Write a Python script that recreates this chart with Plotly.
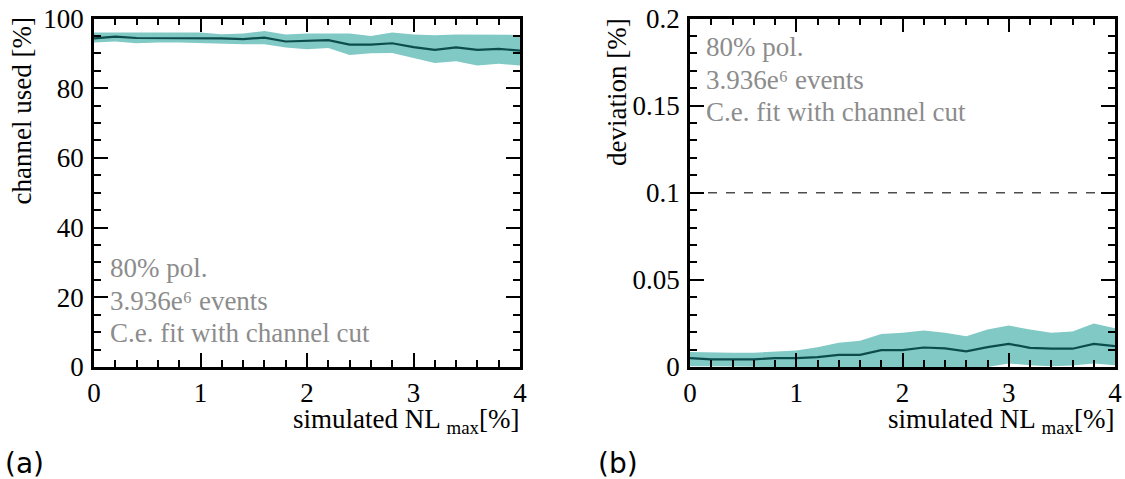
import plotly.graph_objects as go

# x values: simulated NL_max [%]
nl_max = [0.0, 0.2, 0.4, 0.6, 0.8, 1.0, 1.2, 1.4, 1.6, 1.8, 2.0,
          2.2, 2.4, 2.6, 2.8, 3.0, 3.2, 3.4, 3.6, 3.8, 4.0]

# (a) channel used [%]
chan_mean = [94.3, 94.8, 94.4, 94.4, 94.4, 94.4, 94.3, 94.1, 94.5, 93.4, 93.5,
             93.8, 92.5, 92.5, 92.9, 91.8, 91.0, 91.7, 91.0, 91.3, 90.8]
chan_upper = [96.0, 96.0, 96.0, 96.0, 96.0, 96.0, 95.5, 95.7, 96.4, 95.4, 95.7,
              95.7, 95.7, 95.0, 96.0, 95.4, 95.2, 95.4, 95.4, 95.4, 95.3]
chan_lower = [93.1, 93.4, 92.9, 93.1, 93.1, 92.9, 92.8, 92.6, 92.6, 91.7, 91.2,
              91.5, 89.5, 90.0, 90.1, 88.6, 87.2, 87.7, 86.5, 87.0, 86.5]

# (b) deviation [%]
dev_mean = [0.0051, 0.0044, 0.0044, 0.0044, 0.0051, 0.0051, 0.0057, 0.0070, 0.0070, 0.0097, 0.0097,
            0.0112, 0.0107, 0.0090, 0.0114, 0.0133, 0.0110, 0.0105, 0.0105, 0.0133, 0.0120]
dev_upper = [0.0086, 0.0082, 0.0082, 0.0082, 0.0090, 0.0095, 0.0114, 0.0139, 0.0150, 0.0190, 0.0196,
             0.0210, 0.0196, 0.0177, 0.0215, 0.0238, 0.0215, 0.0196, 0.0204, 0.0250, 0.0223]
dev_lower = [0.0005, 0.0003, 0.0003, 0.0002, 0.0000, -0.0005, -0.0010, -0.0020, -0.0020, -0.0010, -0.0010,
             0.0000, -0.0010, -0.0020, 0.0000, 0.0020, 0.0010, 0.0005, 0.0008, 0.0020, 0.0010]

dev_threshold = 0.1

info_lines = ["80% pol.", "3.936e\u2076 events", "C.e. fit with channel cut"]

BAND = "#80c9c5"
LINE = "#0d4c4c"
GRAY = "#8c8c8c"
FONT = "Liberation Serif"
FS = 27

fig = go.Figure()

def add_panel(xa, ya, mean, upper, lower):
    fig.add_trace(go.Scatter(x=nl_max + nl_max[::-1], y=upper + lower[::-1],
                             fill="toself", fillcolor=BAND, line=dict(width=0),
                             mode="lines", hoverinfo="skip", showlegend=False,
                             xaxis=xa, yaxis=ya))
    fig.add_trace(go.Scatter(x=nl_max, y=mean, mode="lines",
                             line=dict(color=LINE, width=2.2), showlegend=False,
                             xaxis=xa, yaxis=ya))

add_panel("x", "y", chan_mean, chan_upper, chan_lower)
add_panel("x2", "y2", dev_mean, dev_upper, dev_lower)

# dashed threshold line
fig.add_trace(go.Scatter(x=[nl_max[0], nl_max[-1]], y=[dev_threshold, dev_threshold],
                         mode="lines", line=dict(color="#4d4d4d", width=1.6, dash="dash"),
                         showlegend=False, xaxis="x2", yaxis="y2"))

ydom = [(479 - 367) / 479, (479 - 18.5) / 479]

def axis(dtick_minor, **kw):
    d = dict(showline=True, linewidth=2.5, linecolor="black", mirror="allticks",
             ticks="inside", ticklen=14, tickwidth=2, tickcolor="black",
             showgrid=False, zeroline=False, automargin=False,
             tickfont=dict(family=FONT, size=FS, color="black"),
             minor=dict(ticks="inside", ticklen=7, tickwidth=1.8, tickcolor="black",
                        dtick=dtick_minor))
    d.update(kw)
    return d

fig.update_layout(
    width=1125, height=479, autosize=False,
    margin=dict(l=0, r=0, t=0, b=0, pad=0, autoexpand=False),
    paper_bgcolor="white", plot_bgcolor="white",
    xaxis=axis(0.2, domain=[94 / 1125, 520 / 1125], range=[0, 4], tickvals=[0, 1, 2, 3, 4],
               anchor="y"),
    yaxis=axis(5, domain=ydom, range=[0, 100], tickvals=[0, 20, 40, 60, 80, 100], anchor="x",
               ticklabelstandoff=2),
    xaxis2=axis(0.2, domain=[690 / 1125, 1115 / 1125], range=[0, 4], tickvals=[0, 1, 2, 3, 4],
                anchor="y2"),
    yaxis2=axis(0.01, domain=ydom, range=[0, 0.2], tickvals=[0, 0.05, 0.1, 0.15, 0.2],
                ticktext=["0", "0.05", "0.1", "0.15", "0.2"], anchor="x2",
                ticklabelstandoff=2),
)

annotations = []
# axis titles
annotations.append(dict(text="channel used [%]", textangle=-90, xref="paper", yref="paper",
                        x=22 / 1125, y=1 - 16 / 479, xanchor="center", yanchor="top",
                        showarrow=False, font=dict(family=FONT, size=FS, color="black")))
annotations.append(dict(text="deviation [%]", textangle=-90, xref="paper", yref="paper",
                        x=617 / 1125, y=1 - 16 / 479, xanchor="center", yanchor="top",
                        showarrow=False, font=dict(family=FONT, size=FS, color="black")))
for xr in (522, 1117):
    annotations.append(dict(text="simulated NL <sub>max</sub>[%]", xref="paper", yref="paper",
                            x=xr / 1125, y=1 - 421 / 479, xanchor="right", yanchor="middle",
                            showarrow=False, font=dict(family=FONT, size=FS, color="black")))
# panel labels
annotations.append(dict(text="(a)", xref="paper", yref="paper", x=3 / 1125, y=1 - 463 / 479,
                        xanchor="left", yanchor="middle", showarrow=False,
                        font=dict(family="DejaVu Sans", size=28, color="black")))
annotations.append(dict(text="(b)", xref="paper", yref="paper", x=596 / 1125, y=1 - 463 / 479,
                        xanchor="left", yanchor="middle", showarrow=False,
                        font=dict(family="DejaVu Sans", size=28, color="black")))
# info text
for i, line in enumerate(info_lines):
    annotations.append(dict(text=line, xref="paper", yref="paper", x=108 / 1125,
                            y=1 - (268 + 32.5 * i) / 479, xanchor="left", yanchor="middle",
                            showarrow=False, font=dict(family=FONT, size=FS, color=GRAY)))
    annotations.append(dict(text=line, xref="paper", yref="paper", x=704 / 1125,
                            y=1 - (47 + 32.5 * i) / 479, xanchor="left", yanchor="middle",
                            showarrow=False, font=dict(family=FONT, size=FS, color=GRAY)))

fig.update_layout(annotations=annotations)
fig.write_html("out.html", config={"displayModeBar": False},
               post_script="document.body.style.margin='0';")
